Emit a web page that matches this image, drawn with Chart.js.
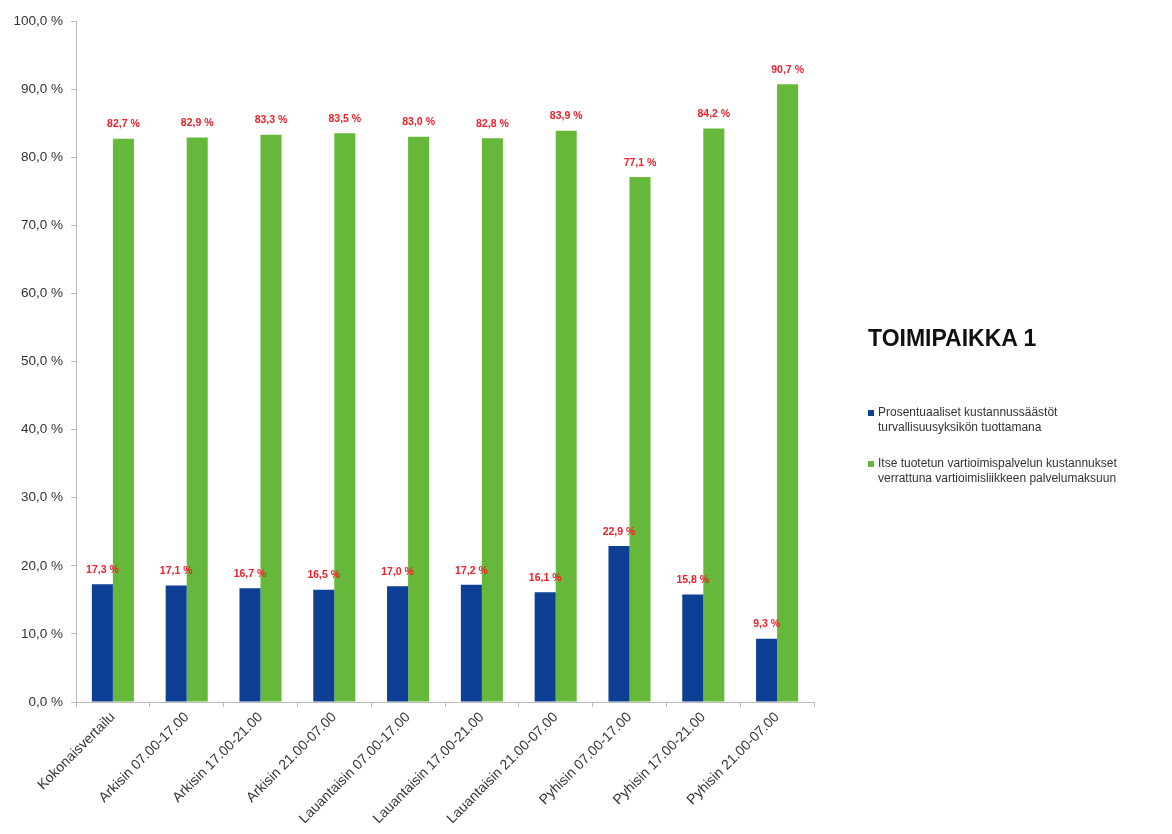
<!DOCTYPE html>
<html>
<head>
<meta charset="utf-8">
<script src="https://cdn.jsdelivr.net/npm/chart.js@4.4.1/dist/chart.umd.min.js"></script>
<style>
  body { margin: 0; background: #fff; font-family: "Liberation Sans", Arial, sans-serif; }
  #wrap { position: relative; width: 1172px; height: 834px; }
  #title { position: absolute; left: 868px; top: 325px; font-size: 23px; font-weight: bold; color: #111; }
  .item { position: absolute; left: 868px; font-size: 12px; color: #333; line-height: 15px; padding-left: 10px; }
  .item span { position: absolute; left: 0; top: 5px; width: 6px; height: 6px; }
</style>
</head>
<body>
<div id="wrap">
  <canvas id="chart" width="1172" height="834"></canvas>
  <div id="title">TOIMIPAIKKA 1</div>
  <div class="item" style="top:405px"><span style="background:#0d3f94"></span>Prosentuaaliset kustannussäästöt<br>turvallisuusyksikön tuottamana</div>
  <div class="item" style="top:456px"><span style="background:#66b83a"></span>Itse tuotetun vartioimispalvelun kustannukset<br>verrattuna vartioimisliikkeen palvelumaksuun</div>
</div>
<script>
const categories = ["Kokonaisvertailu", "Arkisin 07.00-17.00", "Arkisin 17.00-21.00", "Arkisin 21.00-07.00",
    "Lauantaisin 07.00-17.00", "Lauantaisin 17.00-21.00", "Lauantaisin 21.00-07.00",
    "Pyhisin 07.00-17.00", "Pyhisin 17.00-21.00", "Pyhisin 21.00-07.00"];
const savings = [17.3, 17.1, 16.7, 16.5, 17.0, 17.2, 16.1, 22.9, 15.8, 9.3];
const ownCosts = [82.7, 82.9, 83.3, 83.5, 83.0, 82.8, 83.9, 77.1, 84.2, 90.7];
const seriesNames = ["Prosentuaaliset kustannussäästöt turvallisuusyksikön tuottamana",
    "Itse tuotetun vartioimispalvelun kustannukset verrattuna vartioimisliikkeen palvelumaksuun"];

function fmt(v) {
    return v.toFixed(1).replace(".", ",") + " %";
}

// draw the red value labels above each bar
const valueLabels = {
    id: "valueLabels",
    afterDatasetsDraw(chart) {
        const ctx = chart.ctx;
        ctx.save();
        ctx.fillStyle = "#f0202a";
        ctx.font = "bold 10.5px 'Liberation Sans', Arial, sans-serif";
        ctx.textAlign = "center";
        ctx.textBaseline = "bottom";
        chart.data.datasets.forEach(function (ds, i) {
            chart.getDatasetMeta(i).data.forEach(function (bar, j) {
                ctx.fillText(fmt(ds.data[j]), bar.x, bar.y - 9);
            });
        });
        ctx.restore();
    }
};

new Chart(document.getElementById("chart"), {
    type: "bar",
    data: {
        labels: categories,
        datasets: [
            { label: seriesNames[0], data: savings, backgroundColor: "#0d3f94" },
            { label: seriesNames[1], data: ownCosts, backgroundColor: "#66b83a" }
        ]
    },
    options: {
        responsive: false,
        animation: false,
        layout: { padding: { top: 21, right: 358, left: 0, bottom: 0 } },
        datasets: { bar: { categoryPercentage: 0.57, barPercentage: 1.0 } },
        plugins: { legend: { display: false }, tooltip: { enabled: false } },
        scales: {
            x: {
                afterFit(scale) { scale.height = 132; },
                grid: { display: true, drawOnChartArea: false, offset: true, tickLength: 5, color: "#bbb" },
                border: { color: "#bbb" },
                ticks: {
                    minRotation: 45, maxRotation: 45, autoSkip: false, padding: 2,
                    color: "#333", font: { family: "'Liberation Sans', Arial, sans-serif", size: 14 }
                }
            },
            y: {
                min: 0, max: 100,
                afterFit(scale) { scale.width = 76; },
                grid: { display: true, drawOnChartArea: false, tickLength: 5, color: "#bbb" },
                border: { color: "#bbb" },
                ticks: {
                    stepSize: 10, padding: 8, color: "#333",
                    font: { family: "'Liberation Sans', Arial, sans-serif", size: 13.5 },
                    callback: function (v) { return fmt(v); }
                }
            }
        }
    },
    plugins: [valueLabels]
});
</script>
</body>
</html>
